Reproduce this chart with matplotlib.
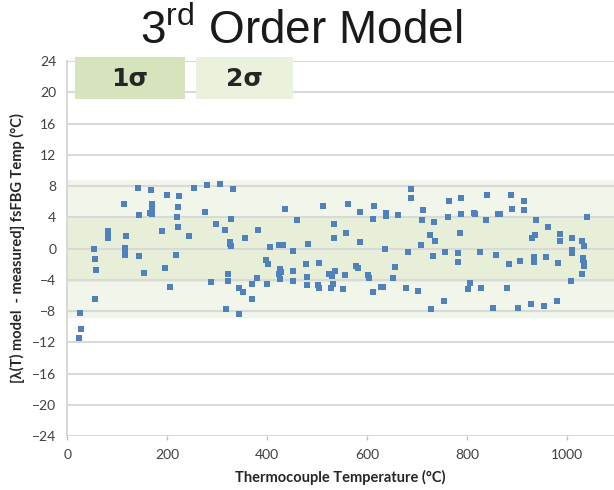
import matplotlib
matplotlib.use("Agg")
import matplotlib.pyplot as plt
from matplotlib.patches import Rectangle

# Thermocouple temperature (°C) and model residual (°C)
temp = [23, 27, 25, 55, 53, 55, 58, 82, 82, 82, 113, 117, 115, 116, 116,
        142, 144, 144, 154, 167, 170, 170, 170, 166, 170, 190, 196, 205, 199,
        224, 222, 219, 222, 218,
        244, 253, 279, 305, 331, 276, 297, 315, 328, 325, 326, 327, 356, 381,
        405, 423, 432, 452, 435, 459, 482, 397, 401, 321, 321, 287, 343, 351,
        369, 379, 370, 399, 425, 424, 427, 425, 452, 452, 477, 479, 479, 317, 343,
        511, 503, 502, 504, 533, 534, 524, 530, 536, 527, 531, 552, 555, 562,
        558, 577, 582, 585, 585, 601, 603, 613, 611, 611, 627, 631, 635, 637,
        637, 655, 652, 662, 688, 688, 677, 682, 702, 708, 711, 709, 725, 732,
        727, 734, 735,
        753, 763, 761, 756, 787, 787, 786, 781, 782, 805, 802, 813, 815, 827,
        825, 837, 839, 851, 857, 862, 865, 879, 883, 888, 889, 901, 906, 914,
        913, 927, 929, 936, 933, 934, 937, 953, 958, 961, 979, 982, 985, 985,
        1007, 1009, 1009, 1010, 1030, 1034, 1032, 1032, 1033, 1033, 1030, 1039]
resid = [-11.4, -10.3, -8.3, -6.4, 0.0, -1.4, -2.8, 2.3, 1.8, 1.3, 5.7, 1.6, 0.1, -0.3, -0.8,
         7.8, 4.3, -0.9, -3.1, 7.5, 5.7, 5.3, 5.0, 4.5, 4.4, 2.2, -2.5, -4.9, 6.9,
         6.7, 5.3, 4.1, 2.7, -0.8,
         1.6, 7.8, 8.1, 8.2, 7.6, 4.7, 3.2, 2.4, 3.8, 0.8, 0.6, 0.3, 1.3, 2.4,
         0.2, 0.4, 0.4, -0.3, 5.1, 3.7, 0.6, -1.5, -2.0, -3.2, -4.1, -4.3, -5.0, -5.5,
         -4.5, -3.8, -6.4, -4.5, -2.6, -3.3, -3.0, -3.9, -2.9, -4.1, -2.0, -3.6, -4.7, -7.7, -8.4,
         5.4, -1.8, -4.7, -5.0, 3.1, 1.3, -3.3, -3.5, -2.9, -5.0, -4.6, -5.2, -3.4, 5.7,
         2.0, -2.2, -2.5, 4.7, 0.9, -3.4, -3.8, 5.5, 3.8, -5.6, -4.9, -4.9, 0.0, 4.5,
         4.2, -2.4, -3.8, 4.3, 7.6, 6.5, -5.0, -0.5, -5.4, 0.4, 4.9, 3.6, 1.7, -0.9,
         -7.7, 3.4, 1.0,
         -6.7, 6.1, 4.0, -0.4, 6.5, 4.4, 2.0, -0.6, -1.7, -4.4, -5.2, 4.6, 4.4, -5.0,
         -0.5, 3.7, 6.9, -7.6, -0.8, 4.4, 4.4, -5.0, -2.0, 6.9, 5.0, -7.6, -1.6, 6.1,
         4.9, -7.1, 1.4, 1.7, -1.7, -1.1, 3.6, -7.3, -1.1, 2.8, -6.7, -1.9, 1.8, 1.0,
         -4.1, 1.3, -0.2, -0.6, 1.0, 0.3, -1.2, -1.5, -1.9, -2.2, -3.2, 4.1]

sigma1 = 4.1
sigma2 = 8.8
yticks = list(range(-24, 25, 4))
xticks = [0, 200, 400, 600, 800, 1000]

plt.rcParams["mathtext.fontset"] = "custom"
plt.rcParams["mathtext.rm"] = "Liberation Sans"

fig = plt.figure(figsize=(6.14, 4.9), dpi=100)
ax = fig.add_axes([0.1096, 0.110, 0.8904, 0.7655])

ax.axhspan(-sigma2, sigma2, color="#f2f5e9", zorder=0)
ax.axhspan(-sigma1, sigma1, color="#e7efd9", zorder=0)
for y in yticks:
    ax.axhline(y, color="#d9d9d9", lw=1.5, zorder=1)

ax.scatter(temp, resid, marker="s", s=20, color="#4f81bd", zorder=3, linewidths=0)

ax.set_xlim(0, 1094)
ax.set_ylim(-24, 24)
ax.set_xticks(xticks)
ax.set_yticks(yticks)
ax.tick_params(labelsize=10, colors="#404040", length=3, width=1)
ax.tick_params(axis="x", pad=6, color="#bfbfbf")
ax.tick_params(axis="y", length=0, pad=8)
for lab in ax.get_xticklabels() + ax.get_yticklabels():
    lab.set_family("Lato")

for s in ["top", "right", "bottom"]:
    ax.spines[s].set_visible(False)
ax.spines["left"].set_color("#d9d9d9")
ax.spines["left"].set_linewidth(1.5)

ax.set_xlabel("Thermocouple Temperature (°C)", fontsize=10.5, fontweight="bold",
              family="Lato", color="#262626", labelpad=7)
ax.set_ylabel("[λ(T) model  - measured] fsFBG Temp (°C)", fontsize=10.5,
              fontweight="bold", family=["Lato", "DejaVu Sans"], color="#262626",
              labelpad=5)

# sigma label boxes
ax.add_patch(Rectangle((15, 19.1), 220, 5.4, facecolor="#d6e3bc", edgecolor="none",
                       clip_on=False, zorder=2))
ax.add_patch(Rectangle((257, 19.1), 194, 5.4, facecolor="#eaf1dd", edgecolor="none",
                       clip_on=False, zorder=2))
ax.text(125, 21.7, "1σ", ha="center", va="center", fontsize=18, fontweight="bold",
        family=["DejaVu Sans"], color="#262626", zorder=4)
ax.text(354, 21.7, "2σ", ha="center", va="center", fontsize=18, fontweight="bold",
        family=["DejaVu Sans"], color="#262626", zorder=4)

fig.text(0.49, 0.935, r"3$^{\mathrm{rd}}$ Order Model", ha="center", va="center",
         fontsize=33, family="Liberation Sans", color="#1a1a1a")

fig.savefig("out.png", dpi=100)
